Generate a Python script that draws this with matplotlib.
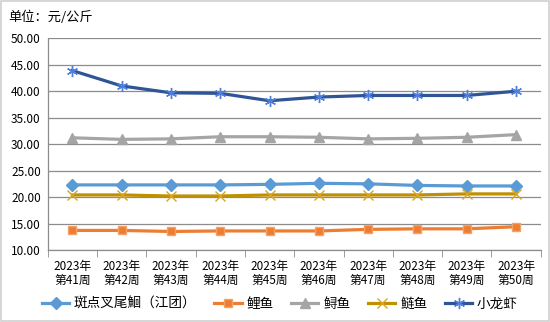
import matplotlib
matplotlib.use("Agg")
import matplotlib.pyplot as plt
from matplotlib.patches import Rectangle
import numpy as np

plt.rcParams['font.family'] = ['Noto Sans CJK SC', 'DejaVu Sans']

weeks = ["2023年\n第41周", "2023年\n第42周", "2023年\n第43周", "2023年\n第44周", "2023年\n第45周",
         "2023年\n第46周", "2023年\n第47周", "2023年\n第48周", "2023年\n第49周", "2023年\n第50周"]
channel_catfish = [22.3, 22.3, 22.3, 22.3, 22.4, 22.6, 22.5, 22.2, 22.1, 22.1]
carp = [13.7, 13.7, 13.5, 13.6, 13.6, 13.6, 13.9, 14.0, 14.0, 14.4]
sturgeon = [31.2, 30.9, 31.0, 31.4, 31.4, 31.3, 31.0, 31.1, 31.3, 31.8]
silver_carp = [20.4, 20.4, 20.2, 20.2, 20.4, 20.4, 20.4, 20.4, 20.6, 20.6]
crayfish = [43.9, 41.0, 39.7, 39.6, 38.2, 38.9, 39.2, 39.2, 39.2, 40.0]
series_names = ["斑点叉尾鮰（江团）", "鲤鱼", "鲟鱼", "鲢鱼", "小龙虾"]
yticks = [10, 15, 20, 25, 30, 35, 40, 45, 50]

fig = plt.figure(figsize=(5.5, 3.22), dpi=100)
ax = fig.add_axes([47.7/550, 1-250/322, (540.7-47.7)/550, (250-38.3)/322])

x = np.arange(len(weeks))
styles = [
    dict(color="#5B9BD5", marker="D", markersize=6, mfc="#5B9BD5", mec="#5B9BD5"),
    dict(color="#ED7D31", marker="s", markersize=6, mfc="#ED7D31", mec="#F4A26A"),
    dict(color="#A5A5A5", marker="^", markersize=7, mfc="#A5A5A5", mec="#A5A5A5"),
    dict(color="#BF9000", marker="x", markersize=7, mfc="none", mec="#D9A520", mew=1.0),
    dict(color="#2F5597", marker=(6, 2, 0), markersize=8, mfc="none", mec="#4F7FD9", mew=1.0),
]
data = [channel_catfish, carp, sturgeon, silver_carp, crayfish]
for vals, name, st in zip(data, series_names, styles):
    ax.plot(x, vals, label=name, linewidth=2.3, **st)

ax.set_xlim(-0.5, len(weeks) - 0.5)
ax.set_ylim(10, 50)
ax.set_yticks(yticks)
ax.set_yticklabels([f"{v:.2f}" for v in yticks], fontsize=8.5)
ax.yaxis.grid(True, color="#8C8C8C", linewidth=0.9)
ax.set_axisbelow(True)
ax.tick_params(axis='y', length=0, pad=5)
ax.set_xticks(x)
ax.set_xticklabels(weeks, fontsize=8.5, linespacing=1.1)
ax.set_xticks(np.arange(-0.5, len(weeks)), minor=True)
ax.tick_params(axis='x', which='major', length=0, pad=7)
ax.tick_params(axis='x', which='minor', length=5, color="#8C8C8C", direction='out')
for s in ['top', 'right']:
    ax.spines[s].set_visible(False)
for s in ['left', 'bottom']:
    ax.spines[s].set_color("#8C8C8C")
    ax.spines[s].set_linewidth(0.9)

fig.text(8/550, 1-17/322, "单位：元/公斤", fontsize=9.5, va='center', ha='left')

fig.legend(loc='center', bbox_to_anchor=(280/550, 1-304/322), ncol=5, frameon=False,
           fontsize=9.8, handlelength=2.0, columnspacing=1.3, handletextpad=0.35,
           borderpad=0, borderaxespad=0)

fig.add_artist(Rectangle((0.001, 0.002), 0.997, 0.995, transform=fig.transFigure,
                         fill=False, edgecolor="#D0D0D0", linewidth=1.2))

fig.savefig("out.png", dpi=100, facecolor="white")
